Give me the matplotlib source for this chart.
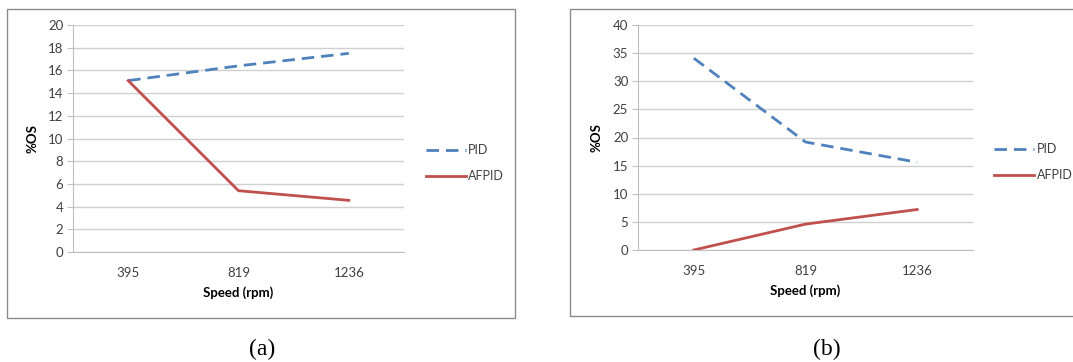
import matplotlib
matplotlib.use("Agg")
import matplotlib.pyplot as plt
from matplotlib.patches import Rectangle

# data
speeds = ["395", "819", "1236"]
pid_a = [15.1, 16.4, 17.5]
afpid_a = [15.1, 5.4, 4.55]
pid_b = [34.1, 19.2, 15.6]
afpid_b = [0.0, 4.6, 7.2]

yticks_a = list(range(0, 21, 2))
yticks_b = list(range(0, 41, 5))

blue = "#4F81BD"
red = "#C0504D"
grid_col = "#d0d0d0"
axis_col = "#bfbfbf"
text_col = "#404040"

plt.rcParams['font.family'] = ['Lato', 'DejaVu Sans']

W, H = 1073, 362
fig = plt.figure(figsize=(W / 100, H / 100), dpi=100)


def px_axes(left, top, right, bottom):
    # convert pixel box to figure fraction
    return fig.add_axes([left / W, 1 - bottom / H, (right - left) / W, (bottom - top) / H])


def frame(left, top, right, bottom):
    r = Rectangle((left / W, 1 - bottom / H), (right - left) / W, (bottom - top) / H,
                  transform=fig.transFigure, fill=False, edgecolor="#8c8c8c", lw=1.0)
    fig.patches.append(r)


def draw_panel(ax, pid, afpid, yticks, ylab_x, xlab_y, leg_anchor):
    x = range(len(speeds))
    ax.plot(x, pid, color=blue, lw=2.0, dashes=(4.5, 2.5), label="PID")
    ax.plot(x, afpid, color=red, lw=2.0, label="AFPID")
    ax.set_xlim(-0.5, len(speeds) - 0.5)
    ax.set_ylim(yticks[0], yticks[-1])
    ax.set_yticks(yticks)
    ax.set_xticks(list(x))
    ax.set_xticklabels(speeds)
    ax.yaxis.grid(True, color=grid_col, lw=1.0)
    ax.set_axisbelow(True)
    for s in ["top", "right"]:
        ax.spines[s].set_visible(False)
    ax.spines["left"].set_color(axis_col)
    ax.spines["bottom"].set_color(axis_col)
    ax.tick_params(axis="y", length=4, color=axis_col, labelsize=9.5, labelcolor=text_col, pad=3)
    ax.tick_params(axis="x", length=0, labelsize=9.5, labelcolor=text_col, pad=11)
    ax.set_ylabel("%OS", fontsize=9.5, fontweight="bold", color="black")
    ax.yaxis.set_label_coords(ylab_x, 0.5)
    ax.set_xlabel("Speed (rpm)", fontsize=9.5, fontweight="bold", color="black")
    ax.xaxis.set_label_coords(0.5, xlab_y)
    ax.legend(loc="center left", bbox_to_anchor=leg_anchor, frameon=False,
              fontsize=9, handlelength=3.2, handletextpad=0.2, labelspacing=1.1,
              borderpad=0, borderaxespad=0, labelcolor=text_col)


# panel (a)
frame(7, 9, 515, 318)
ax1 = px_axes(73, 25, 404, 252)
draw_panel(ax1, pid_a, afpid_a, yticks_a, -0.105, -0.152, (1.066, 0.392))
fig.text(262 / W, 1 - 349 / H, "(a)", ha="center", va="center", fontsize=17,
         family=["Liberation Serif"])

# panel (b), its frame runs off the right edge
frame(570, 9, 1085, 316)
ax2 = px_axes(638, 25, 973, 250)
draw_panel(ax2, pid_b, afpid_b, yticks_b, -0.106, -0.154, (1.063, 0.39))
fig.text(827 / W, 1 - 349 / H, "(b)", ha="center", va="center", fontsize=17,
         family=["Liberation Serif"])

fig.savefig("out.png", dpi=100)
